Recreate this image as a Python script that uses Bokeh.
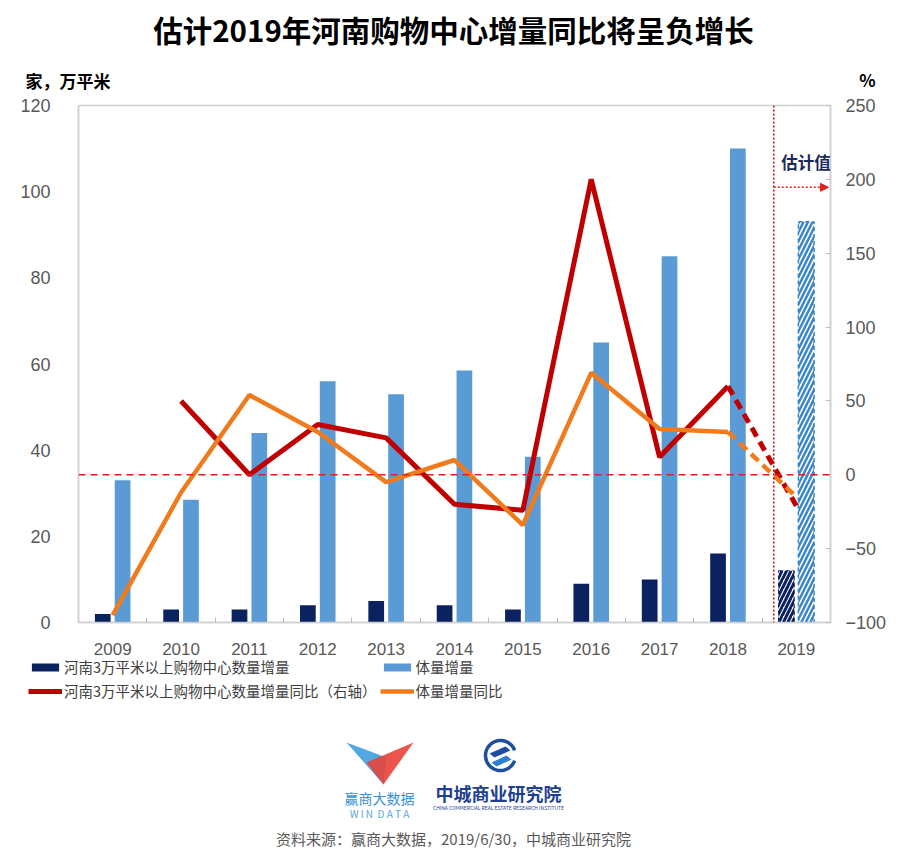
import numpy as np
from bokeh.plotting import figure
from bokeh.layouts import column
from bokeh.models import (Range1d, LinearAxis, FixedTicker, Span, Arrow, NormalHead,
                          Label, Legend, LegendItem, ColumnDataSource)
from bokeh.transform import dodge
from bokeh.embed import file_html
from bokeh.resources import INLINE

# ---------------- data ----------------
years = [2009, 2010, 2011, 2012, 2013, 2014, 2015, 2016, 2017, 2018]
count_inc = [2, 3, 3, 4, 5, 4, 3, 9, 10, 16]                 # 家
area_inc = [33, 28.5, 44, 56, 53, 58.5, 38.5, 65, 85, 110]   # 万平米
count_yoy = [float("nan"), 50, 0, 34, 25, -20, -24, 200, 12, 60]  # %
area_yoy = [-95, -12, 54, 29, -5, 10, -34, 69, 31, 29]            # %

est_year = 2019
est_count_inc = 12
est_area_inc = 93
est_count_yoy = -21
est_area_yoy = -15

left_ticks = [0, 20, 40, 60, 80, 100, 120]
right_ticks = [-100, -50, 0, 50, 100, 150, 200, 250]

title_text = "估计2019年河南购物中心增量同比将呈负增长"
left_unit = "家，万平米"
right_unit = "%"
est_label = "估计值"
legend_labels = ["河南3万平米以上购物中心数量增量", "体量增量",
                 "河南3万平米以上购物中心数量增量同比（右轴）", "体量增量同比"]
source_text = "资料来源：赢商大数据，2019/6/30，中城商业研究院"

# ---------------- style ----------------
FONT = "Noto Sans CJK SC"
NUMFONT = "Liberation Sans"
NAVY = "#0b2260"
LBLUE = "#5b9bd5"
RED = "#c00000"
ORANGE = "#f07b1d"
GRAY = "#595959"
WIDTH = 906
TOP_H, MAIN_H, BOT_H = 94, 563, 195
FRAME_L, FRAME_R, FRAME_T, FRAME_B = 78, 830, 105, 622   # page pixels


def canvas(h):
    f = figure(width=WIDTH, height=h, output_backend="svg", toolbar_location=None,
               x_range=Range1d(0, WIDTH), y_range=Range1d(0, h),
               min_border=0, x_axis_type=None, y_axis_type=None, frame_align=False)
    f.outline_line_color = None
    f.xgrid.visible = False
    f.ygrid.visible = False
    return f


def add_text(f, h, txt, X, Y, size, color, bold=False, align="left"):
    # X, Y: position measured from the canvas' top-left corner
    f.add_layout(Label(x=X, y=h - Y, text=txt, text_font=FONT, text_font_size=f"{size}px",
                       text_color=color, text_font_style="bold" if bold else "normal",
                       text_align=align, text_baseline="middle"))


# ---------------- header ----------------
top = canvas(TOP_H)
add_text(top, TOP_H, title_text, 453, 28, 29.5, "#000000", bold=True, align="center")
add_text(top, TOP_H, left_unit, 25, 80, 17, "#000000", bold=True)
add_text(top, TOP_H, right_unit, 867, 79, 17, "#000000", bold=True, align="center")

# ---------------- main chart ----------------
all_years = years + [est_year]

p = figure(width=WIDTH, height=MAIN_H, output_backend="svg", toolbar_location=None,
           x_range=Range1d(2008.5, 2019.5), y_range=Range1d(left_ticks[0], left_ticks[-1]),
           min_border_left=FRAME_L, min_border_right=WIDTH - FRAME_R,
           min_border_top=FRAME_T - TOP_H,
           min_border_bottom=TOP_H + MAIN_H - FRAME_B,
           x_axis_type=None, y_axis_type=None, frame_align=False)
p.border_fill_color = "white"
p.background_fill_color = "white"
p.outline_line_color = "#d0d0d0"
p.outline_line_width = 1.5
p.extra_y_ranges = {"right": Range1d(right_ticks[0], right_ticks[-1])}

xaxis = LinearAxis(ticker=FixedTicker(ticks=all_years,
                                      minor_ticks=list(np.array(all_years + [est_year + 1]) - 0.5)))
xaxis.major_tick_line_color = None
xaxis.minor_tick_in = 5
xaxis.minor_tick_out = 0
xaxis.minor_tick_line_color = "#bfbfbf"
xaxis.axis_line_color = "#d0d0d0"
xaxis.axis_line_width = 1.5
xaxis.major_label_standoff = 14
xaxis.major_label_text_font = NUMFONT
xaxis.major_label_text_font_size = "17px"
xaxis.major_label_text_color = GRAY
p.add_layout(xaxis, "below")

laxis = LinearAxis(ticker=FixedTicker(ticks=left_ticks))
laxis.major_tick_line_color = None
laxis.minor_tick_line_color = None
laxis.axis_line_color = "#d0d0d0"
laxis.axis_line_width = 1.5
laxis.major_label_standoff = 22
laxis.major_label_text_font = NUMFONT
laxis.major_label_text_font_size = "18px"
laxis.major_label_text_color = GRAY
p.add_layout(laxis, "left")

raxis = LinearAxis(y_range_name="right", ticker=FixedTicker(ticks=right_ticks))
raxis.major_tick_in = 5
raxis.major_tick_out = 0
raxis.major_tick_line_color = "#bfbfbf"
raxis.minor_tick_line_color = None
raxis.axis_line_color = "#d0d0d0"
raxis.axis_line_width = 1.5
raxis.major_label_standoff = 15
raxis.major_label_text_font = NUMFONT
raxis.major_label_text_font_size = "18px"
raxis.major_label_text_color = GRAY
p.add_layout(raxis, "right")

p.xgrid.visible = False
p.ygrid.ticker = FixedTicker(ticks=left_ticks[1:-1])
p.ygrid.grid_line_color = "#bfbfbf"
p.ygrid.grid_line_dash = "dotted"
p.ygrid.grid_line_width = 1.5

src = ColumnDataSource(dict(year=years, count=count_inc, area=area_inc,
                            cyoy=count_yoy, ayoy=area_yoy))
est = ColumnDataSource(dict(year=[est_year], count=[est_count_inc], area=[est_area_inc]))

W = 0.23
OFF = 0.145
p.vbar(x=dodge("year", -OFF), top="count", width=W, source=src,
       fill_color=NAVY, line_color=None)
p.vbar(x=dodge("year", OFF), top="area", width=W, source=src,
       fill_color=LBLUE, line_color=None)
p.vbar(x=dodge("year", -OFF), top="count", width=W, source=est,
       fill_color="white", hatch_pattern="/", hatch_color=NAVY, hatch_weight=3,
       hatch_scale=9, line_color=NAVY, line_width=1, line_dash="4 3")
p.vbar(x=dodge("year", OFF), top="area", width=W, source=est,
       fill_color="white", hatch_pattern="/", hatch_color="#3a86c8", hatch_weight=2.5,
       hatch_scale=9, line_color="#3a86c8", line_width=1.5, line_dash="4 3")

p.add_layout(Span(location=0, dimension="width", y_range_name="right",
                  line_color="#e0201b", line_width=1.5, line_dash="7 5"))

p.line("year", "cyoy", source=src, y_range_name="right", line_color=RED, line_width=5)
p.line("year", "ayoy", source=src, y_range_name="right", line_color=ORANGE, line_width=4.5)
p.line([years[-1], est_year], [count_yoy[-1], est_count_yoy], y_range_name="right",
       line_color=RED, line_width=5, line_dash="10 6")
p.line([years[-1], est_year], [area_yoy[-1], est_area_yoy], y_range_name="right",
       line_color=ORANGE, line_width=4.5, line_dash="10 6")

EST_X = 2018.67
p.add_layout(Span(location=EST_X, dimension="height", line_color=RED,
                  line_width=1.5, line_dash="2 2"))
p.add_layout(Arrow(x_start=EST_X, y_start=101, x_end=2019.47, y_end=101,
                   line_color="#e0201b", line_width=1.5, line_dash="2 2",
                   end=NormalHead(size=8, fill_color="#e0201b", line_color="#e0201b")))
p.add_layout(Label(x=2019.14, y=107, text=est_label, text_font=FONT,
                   text_font_size="16.5px", text_font_style="bold", text_color="#1a2a5e",
                   text_align="center", text_baseline="middle"))

# ---------------- footer: legend, logos, source ----------------
bot = canvas(BOT_H)
Y0 = TOP_H + MAIN_H   # page y of the footer's top edge
# legend proxies, placed outside the visible canvas
l_cnt = bot.vbar(x=[-50], top=[-50], width=1, fill_color=NAVY, line_color=None)
l_area = bot.vbar(x=[-50], top=[-50], width=1, fill_color=LBLUE, line_color=None)
l_red = bot.line(x=[-60, -50], y=[-50, -50], line_color=RED, line_width=5)
l_or = bot.line(x=[-60, -50], y=[-50, -50], line_color=ORANGE, line_width=4.5)
legend = Legend(items=[LegendItem(label=legend_labels[0], renderers=[l_cnt]),
                       LegendItem(label=legend_labels[2], renderers=[l_red]),
                       LegendItem(label=legend_labels[1], renderers=[l_area]),
                       LegendItem(label=legend_labels[3], renderers=[l_or])],
                orientation="vertical", nrows=2, location=(28, BOT_H - (701 - Y0)),
                label_text_font=FONT, label_text_font_size="14.5px",
                label_text_color="#404040", glyph_width=34, glyph_height=10,
                label_standoff=2, spacing=3, padding=0, margin=0, label_height=20,
                background_fill_alpha=0, border_line_alpha=0)
bot.add_layout(legend)


def logo_patch(pts, color, alpha=1.0):
    bot.patch([x for x, _ in pts], [BOT_H - (y - Y0) for _, y in pts], fill_color=color,
              fill_alpha=alpha, line_color=None)


logo_patch([(346, 742), (383, 784), (386, 757)], "#4aa3df", 0.95)
logo_patch([(413, 742), (383, 784), (366, 762)], "#e8443a", 0.9)
add_text(bot, BOT_H, "赢商大数据", 379, 797 - Y0, 14, "#3a8fd6", align="center")
add_text(bot, BOT_H, "W\u00a0I\u00a0N\u00a0\u00a0D\u00a0A\u00a0T\u00a0A", 379, 813 - Y0, 10,
         "#5aa7e0", align="center")

ang = np.linspace(0.35, 2 * np.pi - 0.35, 60)
bot.line(500 + 15 * np.cos(ang), BOT_H - (755 - Y0) + 15 * np.sin(ang),
         line_color="#1f4ea0", line_width=3.5)
logo_patch([(489, 753), (505, 746), (510, 750), (494, 757)], "#1f4ea0")
logo_patch([(491, 762), (506, 755), (511, 759), (496, 766)], "#2f7fd0")
add_text(bot, BOT_H, "中城商业研究院", 498, 792 - Y0, 18, "#1e3f8f", bold=True, align="center")
add_text(bot, BOT_H, "CHINA COMMERCIAL REAL ESTATE RESEARCH INSTITUTE", 498, 807 - Y0, 5,
         "#1e3f8f", align="center")
add_text(bot, BOT_H, source_text, 453, 838 - Y0, 15, GRAY, align="center")

layout = column(top, p, bot, spacing=0)
open("out.html", "w").write(file_html(layout, INLINE))
